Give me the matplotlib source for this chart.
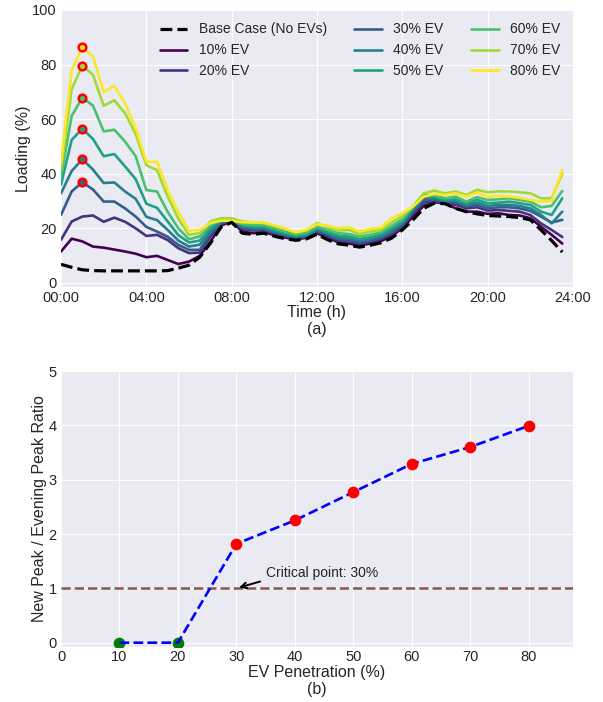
import numpy as np
import matplotlib
matplotlib.use("Agg")
import matplotlib.pyplot as plt

plt.style.use("seaborn-v0_8-darkgrid")
plt.rcParams['font.family'] = ['Liberation Sans', 'DejaVu Sans']
plt.rcParams['text.color'] = '#262626'
plt.rcParams['axes.labelcolor'] = '#262626'
plt.rcParams['xtick.color'] = '#262626'
plt.rcParams['ytick.color'] = '#262626'

# ---------------- data ----------------
time_h = np.arange(0, 24, 0.5)

base_case = [6.8, 5.7, 4.8, 4.5, 4.4, 4.4, 4.4, 4.4, 4.4, 4.4, 4.5, 5.4,
             6.5, 9.4, 14.5, 20.4, 22.2, 18.2, 17.8, 18.2, 17.1, 16.2, 15.6, 16.1,
             17.8, 15.8, 14.3, 13.8, 13.1, 13.8, 14.7, 16.4, 19.4, 23.1, 27.3, 29.2,
             29.0, 27.3, 26.1, 25.3, 24.7, 24.5, 24.3, 23.9, 23.1, 19.4, 15.5, 11.3]
ev10 = [11.5, 16.2, 15.2, 13.3, 12.9, 12.2, 11.5, 10.7, 9.4, 9.9, 8.4, 6.9,
        7.8, 9.9, 15.1, 21.0, 22.5, 18.8, 18.2, 18.6, 17.5, 16.6, 16.0, 16.5,
        18.2, 16.4, 14.9, 14.4, 13.7, 14.4, 15.3, 17.2, 20.0, 24.3, 28.2, 29.5,
        29.2, 27.3, 26.1, 26.1, 25.3, 25.5, 24.9, 24.7, 23.7, 20.6, 17.6, 14.4]
ev20 = [15.8, 22.5, 24.3, 24.7, 22.4, 23.9, 22.4, 20.0, 17.2, 17.6, 15.7, 12.7,
        10.9, 11.1, 17.0, 21.5, 22.8, 19.7, 19.2, 19.2, 17.9, 17.0, 16.2, 16.7,
        18.8, 17.0, 15.5, 15.0, 14.3, 15.0, 16.1, 17.8, 20.6, 25.3, 29.4, 29.8,
        29.2, 28.6, 27.3, 27.7, 26.5, 26.7, 26.4, 26.1, 24.9, 21.8, 19.4, 16.8]
ev30 = [24.9, 33.5, 36.9, 34.2, 29.8, 29.8, 27.3, 24.3, 20.5, 18.8, 16.9, 13.9,
        12.1, 12.1, 17.9, 21.9, 23.1, 20.3, 19.7, 19.7, 18.5, 17.5, 16.6, 17.1,
        19.2, 17.6, 16.0, 15.6, 14.9, 15.5, 16.5, 18.5, 21.2, 26.1, 30.4, 30.4,
        29.8, 29.4, 28.0, 28.6, 27.3, 27.7, 27.7, 27.3, 26.4, 24.3, 22.1, 23.1]
ev40 = [32.8, 41.0, 45.3, 41.5, 36.6, 36.8, 33.5, 30.8, 24.2, 23.0, 19.4, 15.5,
        13.3, 14.0, 18.8, 22.2, 23.1, 20.6, 20.0, 20.1, 18.8, 17.8, 17.0, 17.5,
        19.7, 18.2, 16.6, 16.2, 15.5, 16.1, 17.1, 19.2, 21.9, 26.7, 31.0, 31.0,
        30.1, 30.1, 28.6, 29.4, 28.2, 28.6, 28.6, 28.2, 27.3, 24.9, 21.8, 26.1]
ev50 = [36.0, 52.4, 56.5, 52.7, 46.4, 47.2, 42.7, 38.0, 29.0, 27.5, 22.5, 17.5,
        14.8, 15.5, 20.0, 22.8, 23.1, 21.1, 20.6, 20.6, 19.4, 18.2, 17.3, 17.8,
        20.0, 18.7, 17.3, 17.0, 16.1, 16.7, 17.7, 20.0, 22.5, 27.3, 31.6, 31.6,
        30.4, 30.6, 29.2, 30.4, 29.2, 29.4, 29.8, 29.2, 28.6, 26.1, 24.9, 31.0]
ev60 = [39.0, 61.2, 67.9, 64.9, 55.5, 56.1, 51.8, 46.4, 34.0, 33.5, 26.0, 20.0,
        16.0, 17.0, 21.0, 23.1, 23.4, 21.6, 21.2, 21.2, 20.0, 18.8, 17.8, 18.4,
        20.6, 19.4, 18.2, 17.9, 17.0, 17.6, 18.5, 20.9, 23.3, 28.0, 32.2, 32.0,
        31.0, 31.6, 29.8, 31.4, 30.4, 30.6, 31.0, 30.4, 29.8, 27.7, 28.2, 33.7]
ev70 = [41.5, 71.0, 79.6, 76.2, 64.9, 66.9, 62.2, 54.5, 43.1, 41.3, 31.6, 23.5,
        17.6, 18.2, 22.5, 23.7, 23.7, 22.5, 22.2, 21.9, 20.9, 19.7, 18.5, 19.2,
        21.9, 20.4, 19.2, 19.4, 17.9, 18.8, 19.4, 22.1, 24.5, 28.0, 32.8, 33.8,
        32.8, 33.5, 32.2, 34.1, 33.2, 33.5, 33.5, 33.2, 32.8, 31.0, 31.0, 40.0]
ev80 = [44.0, 78.0, 86.3, 82.9, 70.0, 72.2, 65.8, 56.7, 44.4, 44.4, 34.0, 26.0,
        19.2, 19.4, 21.9, 22.8, 22.8, 22.2, 22.2, 22.1, 21.1, 19.9, 18.6, 19.4,
        21.5, 20.9, 20.0, 20.4, 18.8, 19.8, 20.3, 23.7, 25.5, 28.0, 31.6, 32.6,
        32.2, 32.8, 31.6, 33.1, 31.6, 31.9, 31.6, 31.2, 30.4, 29.8, 30.0, 41.4]

ev_series = [ev10, ev20, ev30, ev40, ev50, ev60, ev70, ev80]
ev_labels = ["10% EV", "20% EV", "30% EV", "40% EV", "50% EV", "60% EV", "70% EV", "80% EV"]
marked = [False, False, True, True, True, True, True, True]

time_ticks = [0, 4, 8, 12, 16, 20, 24]
time_ticklabels = ["00:00", "04:00", "08:00", "12:00", "16:00", "20:00", "24:00"]

penetration = [10, 20, 30, 40, 50, 60, 70, 80]
peak_ratio = [0.0, 0.0, 1.82, 2.25, 2.77, 3.29, 3.60, 3.99]

# ---------------- figure ----------------
fig = plt.figure(figsize=(6.03, 7.02), dpi=100)
ax1 = fig.add_axes([0.1012, 0.5912, 0.849, 0.3946])
ax2 = fig.add_axes([0.1012, 0.0783, 0.849, 0.3932])

colors = plt.cm.viridis(np.linspace(0, 1, len(ev_series)))

ax1.plot(time_h, base_case, color='black', linestyle='--', linewidth=2.3,
         label="Base Case (No EVs)", zorder=3)
for vals, lab, col in zip(ev_series, ev_labels, colors):
    ax1.plot(time_h, vals, color=col, linewidth=1.9, label=lab, zorder=2)
for vals, col, mk in zip(ev_series, colors, marked):
    if mk:
        k = int(np.argmax(vals))
        ax1.plot(time_h[k], vals[k], 'o', markerfacecolor=col, markeredgecolor='red',
                 markersize=5.5, markeredgewidth=1.8, zorder=4)

ax1.set_xlim(0, 24)
ax1.set_ylim(-1.5, 100)
ax1.set_xticks(time_ticks)
ax1.set_xticklabels(time_ticklabels)
ax1.set_yticks([0, 20, 40, 60, 80, 100])
ax1.tick_params(axis='x', labelsize=10.5, pad=3)
ax1.tick_params(axis='y', labelsize=10.5, pad=3)
ax1.set_xlabel("Time (h)\n(a)", fontsize=11.5, linespacing=1.15, labelpad=0)
ax1.set_ylabel("Loading (%)", fontsize=11.5, labelpad=1)
ax1.legend(loc='upper right', ncol=3, fontsize=10, frameon=False)

# bottom
pen = np.array(penetration)
rat = np.array(peak_ratio)
ax2.axhline(1.0, color='tab:brown', linestyle='--', linewidth=1.8, zorder=2)
ax2.scatter(pen[rat == 0], rat[rat == 0], color='green', s=55, zorder=2)
ax2.plot(pen, rat, color='blue', linestyle='--', linewidth=1.9, zorder=3)
ax2.scatter(pen[rat > 0], rat[rat > 0], color='red', s=55, zorder=4)
ax2.annotate("Critical point: 30%", xy=(30, 1.0), xytext=(35, 1.21),
             fontsize=10, color='#262626',
             arrowprops=dict(arrowstyle='->', color='black', lw=1.4, relpos=(0, 0)))

ax2.set_xlim(0, 87.6)
ax2.set_ylim(-0.08, 5)
ax2.set_xticks(np.arange(0, 81, 10))
ax2.set_yticks(np.arange(0, 6, 1))
ax2.tick_params(axis='x', labelsize=10.5, pad=2)
ax2.tick_params(axis='y', labelsize=10.5, pad=3)
ax2.set_xlabel("EV Penetration (%)\n(b)", fontsize=11.5, linespacing=1.15, labelpad=1)
ax2.set_ylabel("New Peak / Evening Peak Ratio", fontsize=11.5, labelpad=1)

fig.savefig("out.png", dpi=100)
